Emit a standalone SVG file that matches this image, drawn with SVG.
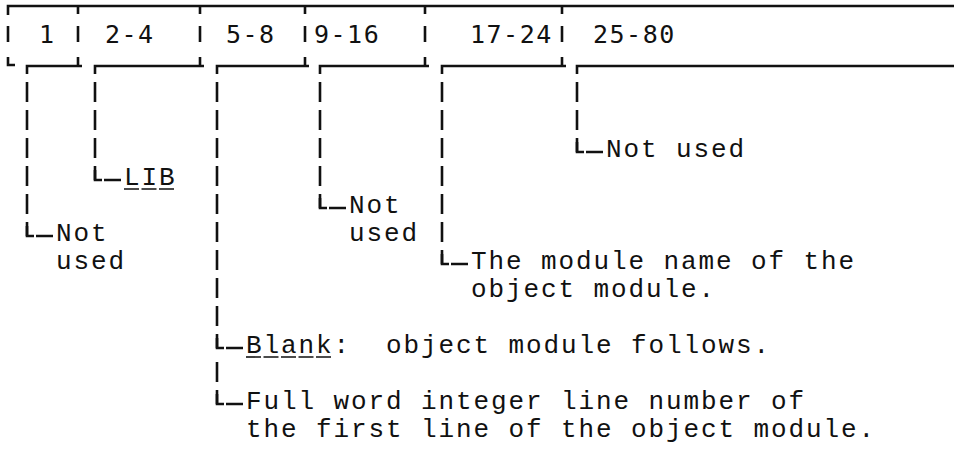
<svg xmlns="http://www.w3.org/2000/svg" width="954" height="450" viewBox="0 0 954 450">
<defs>
<style>
.ln{stroke:#111;stroke-width:2.6;fill:none;stroke-linecap:butt}
.dash{stroke:#111;stroke-width:2.6;fill:none;stroke-dasharray:20 8}
.ul{stroke:#111;stroke-width:1.6;fill:none;stroke-dasharray:15 2.5}
.hd{font-family:"DejaVu Sans Mono","Liberation Mono",monospace;font-size:25px;fill:#111;letter-spacing:1.5px}
.tx{font-family:"Liberation Mono","Courier New",monospace;font-size:26px;fill:#111;letter-spacing:1.9px;white-space:pre}
</style>
</defs>
<rect width="954" height="450" fill="#fff"/>
<g id="header">
<path class="ln" d="M8 15V6H954M78 6V14M200 6V14M305 6V14M425 6V14M562 6V14"/>
<path class="ln" d="M8 26V42M78 26V42M200 26V42M305 26V42M425 26V42M562 26V42"/>
<path class="ln" d="M8 57V65H15M78 57V66M200 57V66M305 57V66M425 57V66M562 57V66"/>
<path class="ln" d="M27 74V66H82M95 74V66H204M217 74V66H309M320 74V66H429M442 74V66H566M577 74V66H954"/>
<text class="hd" x="39" y="43">1</text>
<text class="hd" x="105" y="43">2-4</text>
<text class="hd" x="226" y="43">5-8</text>
<text class="hd" x="314" y="43">9-16</text>
<text class="hd" x="470" y="43">17-24</text>
<text class="hd" x="593" y="43">25-80</text>
</g>
<g id="connectors">
<line class="dash" x1="27" y1="82" x2="27" y2="236"/>
<line class="dash" x1="95" y1="82" x2="95" y2="180"/>
<line class="dash" x1="217" y1="82" x2="217" y2="348"/>
<line class="dash" x1="217" y1="362" x2="217" y2="404"/>
<line class="dash" x1="320" y1="82" x2="320" y2="208"/>
<line class="dash" x1="442" y1="82" x2="442" y2="264"/>
<line class="dash" x1="577" y1="82" x2="577" y2="152"/>
<path class="ln" d="M27 226V236H34M36 236H53"/>
<path class="ln" d="M95 170V180H102M104 180H121"/>
<path class="ln" d="M217 338V348H224M226 348H243"/>
<path class="ln" d="M217 394V404H224M226 404H243"/>
<path class="ln" d="M320 198V208H327M329 208H346"/>
<path class="ln" d="M442 254V264H449M451 264H468"/>
<path class="ln" d="M577 142V152H584M586 152H603"/>
</g>
<g id="note-col1">
<text class="tx" x="56" y="241">Not</text>
<text class="tx" x="56" y="269">used</text>
</g>
<g id="note-col2-4">
<text class="tx" x="124" y="185">LIB</text>
<line class="ul" x1="124" y1="189" x2="176" y2="189"/>
</g>
<g id="note-col9-16">
<text class="tx" x="349" y="213">Not</text>
<text class="tx" x="349" y="241">used</text>
</g>
<g id="note-col25-80">
<text class="tx" x="606" y="157">Not used</text>
</g>
<g id="note-col17-24">
<text class="tx" x="471" y="269">The module name of the</text>
<text class="tx" x="471" y="297">object module.</text>
</g>
<g id="note-col5-8-blank">
<text class="tx" x="246" y="353" xml:space="preserve">Blank:  object module follows.</text>
<line class="ul" x1="246" y1="357" x2="333" y2="357"/>
</g>
<g id="note-col5-8-full">
<text class="tx" x="246" y="409">Full word integer line number of</text>
<text class="tx" x="246" y="437">the first line of the object module.</text>
</g>
</svg>
